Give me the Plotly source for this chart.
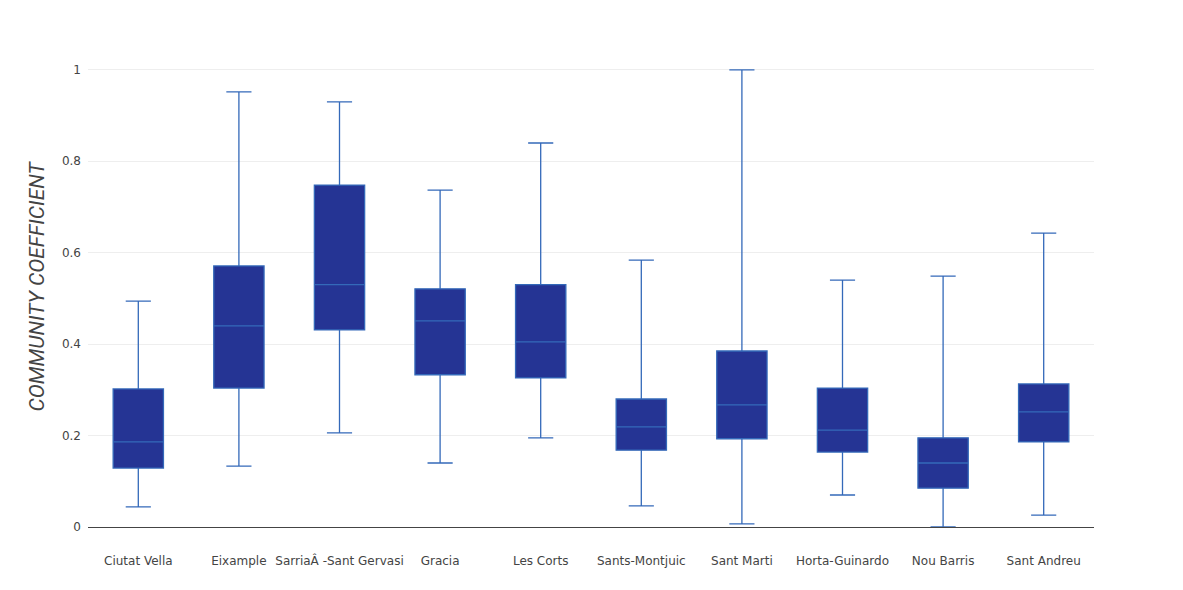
import plotly.graph_objects as go

districts = ["Ciutat Vella", "Eixample", "SarriaÂ -Sant Gervasi", "Gracia", "Les Corts",
             "Sants-Montjuic", "Sant Marti", "Horta-Guinardo", "Nou Barris", "Sant Andreu"]
lower = [0.044, 0.133, 0.206, 0.140, 0.195, 0.046, 0.007, 0.070, 0.000, 0.026]
q1 = [0.129, 0.304, 0.431, 0.333, 0.326, 0.168, 0.193, 0.164, 0.085, 0.186]
median = [0.186, 0.440, 0.530, 0.451, 0.405, 0.219, 0.267, 0.212, 0.140, 0.252]
q3 = [0.302, 0.571, 0.748, 0.521, 0.530, 0.280, 0.385, 0.304, 0.195, 0.313]
upper = [0.494, 0.952, 0.930, 0.737, 0.840, 0.584, 1.000, 0.540, 0.549, 0.643]
yticks = [0, 0.2, 0.4, 0.6, 0.8, 1]

fig = go.Figure()
fig.add_trace(go.Box(
    x=districts, q1=q1, median=median, q3=q3, lowerfence=lower, upperfence=upper,
    fillcolor="rgb(37,52,148)",
    line=dict(color="rgb(52,105,185)", width=1.3),
    whiskerwidth=0.5,
    boxpoints=False,
    hoverinfo="y",
))
fig.update_layout(
    width=1183, height=590,
    paper_bgcolor="white", plot_bgcolor="white",
    margin=dict(l=80, r=97, t=39, b=71),
    boxgap=0.5, boxgroupgap=0,
    showlegend=False,
    font=dict(family="DejaVu Sans", size=12, color="#444"),
    xaxis=dict(
        showgrid=False, showline=True, linecolor="#444", linewidth=1,
        tickfont=dict(family="DejaVu Sans", size=12, color="#444"),
        ticks="", ticklabelstandoff=23, automargin=False,
    ),
    yaxis=dict(
        range=[0, 1.05], tickvals=yticks, ticktext=["0", "0.2", "0.4", "0.6", "0.8", "1"],
        showgrid=True, gridcolor="#eeeeee", zeroline=False,
        tickfont=dict(family="DejaVu Sans", size=12, color="#444"),
        ticklabelstandoff=6, automargin=False,
        title=dict(text="<i>COMMUNITY COEFFICIENT</i>",
                   font=dict(family="Liberation Sans Narrow, Roboto", size=21, color="#444"),
                   standoff=11),
    ),
)
fig.write_html("out.html")
